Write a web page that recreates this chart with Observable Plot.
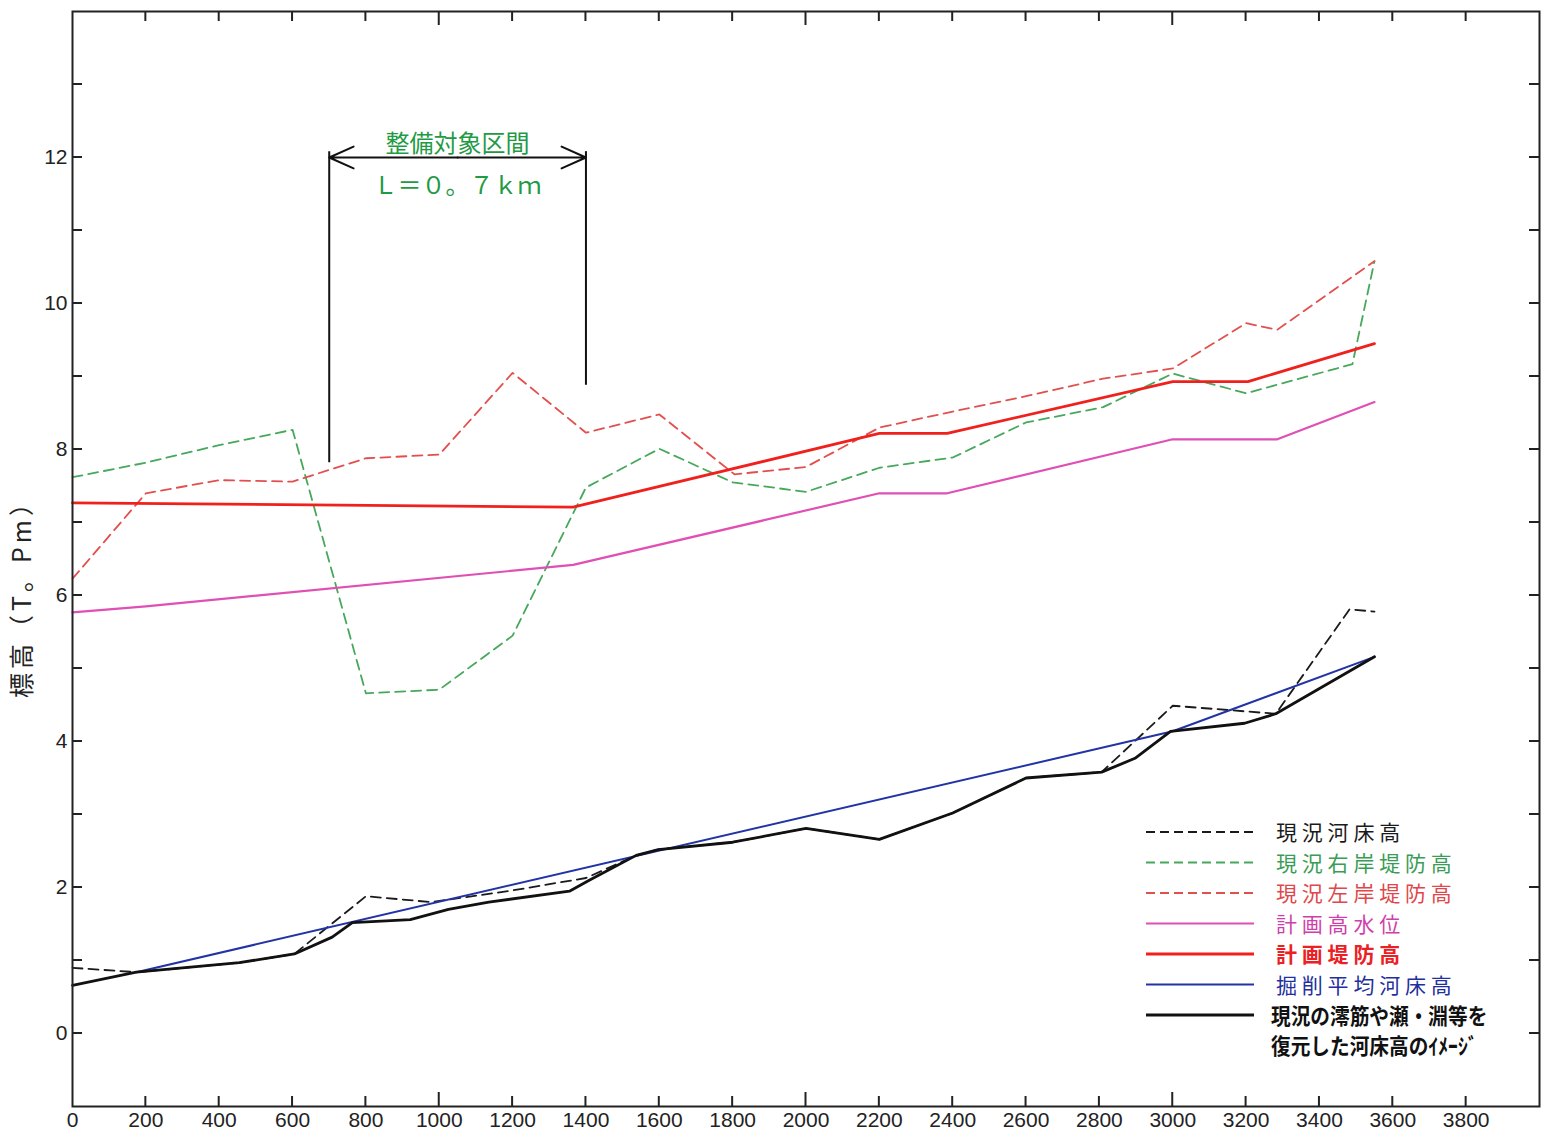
<!DOCTYPE html>
<html>
<head>
<meta charset="utf-8">
<script src="https://cdn.jsdelivr.net/npm/d3@7"></script>
<script src="https://cdn.jsdelivr.net/npm/@observablehq/plot@0.6"></script>
<style>
  body { margin: 0; background: #fff; }
  #chart svg { display: block; }
</style>
</head>
<body>
<div id="chart"></div>
<script>
// Longitudinal profile: distance along the river (m) vs elevation (T.P. m)

// 現況河床高 (existing riverbed, dashed black)
const bedX = [0, 174, 455, 605, 800, 978, 1200, 1400, 1537, 1597, 1800, 2000, 2200, 2400, 2600, 2806, 3000, 3281, 3482, 3550];
const bedY = [0.90, 0.84, 0.97, 1.09, 1.88, 1.80, 1.96, 2.13, 2.44, 2.52, 2.62, 2.81, 2.66, 3.02, 3.50, 3.58, 4.49, 4.38, 5.81, 5.78];

// 現況右岸堤防高 (existing right-bank levee, dashed green)
const rightX = [0, 200, 400, 600, 800, 1000, 1200, 1400, 1600, 1800, 2000, 2200, 2400, 2600, 2810, 3000, 3200, 3490, 3550];
const rightY = [7.62, 7.82, 8.06, 8.27, 4.66, 4.71, 5.45, 7.48, 8.01, 7.55, 7.42, 7.75, 7.89, 8.37, 8.58, 9.04, 8.77, 9.17, 10.58];

// 現況左岸堤防高 (existing left-bank levee, dashed red)
const leftX = [0, 200, 400, 600, 800, 1000, 1200, 1400, 1600, 1805, 2000, 2200, 2400, 2600, 2810, 3000, 3200, 3285, 3550];
const leftY = [6.23, 7.40, 7.58, 7.56, 7.88, 7.93, 9.05, 8.23, 8.48, 7.66, 7.76, 8.30, 8.52, 8.73, 8.97, 9.11, 9.73, 9.64, 10.58];

// 計画高水位 (design high water level, magenta)
const hwlX = [0, 200, 1365, 2200, 2385, 3000, 3285, 3550];
const hwlY = [5.77, 5.85, 6.42, 7.40, 7.40, 8.14, 8.14, 8.65];

// 計画堤防高 (design levee crown, red)
const leveeX = [0, 1365, 2200, 2385, 3000, 3205, 3550];
const leveeY = [7.27, 7.21, 8.22, 8.22, 8.93, 8.93, 9.45];

// 掘削平均河床高 (average excavated bed, blue)
const digX = [174, 3000, 3550];
const digY = [0.84, 4.14, 5.16];

// 現況の澪筋や瀬・淵等を復元した河床高のイメージ (restored bed image, solid black)
const imgX = [0, 174, 455, 605, 708, 763, 921, 1025, 1135, 1355, 1409, 1537, 1597, 1800, 2000, 2200, 2400, 2600, 2806, 2897, 2994, 3196, 3281, 3550];
const imgY = [0.66, 0.84, 0.97, 1.09, 1.32, 1.52, 1.56, 1.70, 1.80, 1.95, 2.10, 2.44, 2.52, 2.62, 2.81, 2.66, 3.02, 3.50, 3.58, 3.77, 4.14, 4.25, 4.38, 5.16];

// Section under improvement (整備対象区間, L = 0.7 km)
const spanX = [700, 1400];
const spanArrowY = 12;
const spanBottomY = [7.82, 8.88];
const spanTitle = "整備対象区間";
const spanLength = "Ｌ＝０。７ｋｍ";

// Axes
const xTickValues = d3.range(0, 3801, 200);
const yTickValues = d3.range(-1, 15, 1);
const yLabelValues = [0, 2, 4, 6, 8, 10, 12];
const yTitle = "標高（T。Pm）";

const pts = (xs, ys) => xs.map((x, i) => ({x, y: ys[i]}));

const series = [
  {name: "現況河床高", data: pts(bedX, bedY), stroke: "#1a1a1a", width: 1.8, dash: "10,6", text: "#1a1a1a", weight: 400},
  {name: "現況右岸堤防高", data: pts(rightX, rightY), stroke: "#47a85c", width: 1.8, dash: "10,6", text: "#3a9d55", weight: 400},
  {name: "現況左岸堤防高", data: pts(leftX, leftY), stroke: "#e2504e", width: 1.8, dash: "10,6", text: "#e0474a", weight: 400},
  {name: "計画高水位", data: pts(hwlX, hwlY), stroke: "#e04fb4", width: 2.2, dash: null, text: "#cf3fab", weight: 400},
  {name: "計画堤防高", data: pts(leveeX, leveeY), stroke: "#f0211c", width: 2.8, dash: null, text: "#ea2025", weight: 700},
  {name: "掘削平均河床高", data: pts(digX, digY), stroke: "#2233a6", width: 2.0, dash: null, text: "#1f2f9e", weight: 400},
  {name: ["現況の澪筋や瀬・淵等を", "復元した河床高のｲﾒｰｼﾞ"], data: pts(imgX, imgY), stroke: "#111", width: 2.8, dash: null, text: "#111", weight: 700}
];

const lineMarks = series.map(s => Plot.line(s.data, {
  x: "x", y: "y", stroke: s.stroke, strokeWidth: s.width,
  strokeDasharray: s.dash, strokeLinejoin: "round"
}));

// inward ticks on all four sides of the frame
function frameTicks(index, {x, y}, values, dims) {
  const {width, height, marginTop, marginRight, marginBottom, marginLeft} = dims;
  const b = height - marginBottom, t = marginTop, l = marginLeft, r = width - marginRight;
  const g = d3.create("svg:g").attr("stroke", "#222").attr("stroke-width", 2);
  for (const v of xTickValues) {
    if (v === 0) continue;
    const len = v % 1000 === 0 ? 14 : 10;
    g.append("line").attr("x1", x(v)).attr("x2", x(v)).attr("y1", b).attr("y2", b - len);
    g.append("line").attr("x1", x(v)).attr("x2", x(v)).attr("y1", t).attr("y2", t + len);
  }
  for (const v of yTickValues) {
    if (v === -1 || v === 14) continue;
    g.append("line").attr("x1", l).attr("x2", l + 10).attr("y1", y(v)).attr("y2", y(v));
    g.append("line").attr("x1", r).attr("x2", r - 10).attr("y1", y(v)).attr("y2", y(v));
  }
  return g.node();
}

// vertical axis title, rotated, left of the frame
function axisTitle(index, scales, values, dims) {
  const {height, marginTop, marginBottom} = dims;
  const cy = (marginTop + height - marginBottom) / 2 + 34;
  return d3.create("svg:text")
    .attr("transform", `translate(31,${cy}) rotate(-90)`)
    .attr("text-anchor", "middle")
    .attr("font-size", 25)
    .attr("letter-spacing", 4)
    .attr("font-family", "'Noto Sans CJK JP', sans-serif")
    .attr("fill", "#222")
    .text(yTitle).node();
}

// legend box in the lower right of the frame
function legend(index, scales, values, dims) {
  const {width, height, marginRight, marginBottom} = dims;
  const x0 = width - marginRight - 393, y0 = height - marginBottom - 274;
  const g = d3.create("svg:g").attr("text-anchor", "start");
  const rowH = 30.5;
  series.forEach((s, i) => {
    const yy = y0 + i * rowH;
    g.append("line").attr("x1", x0).attr("x2", x0 + 108).attr("y1", yy).attr("y2", yy)
      .attr("stroke", s.stroke).attr("stroke-width", s.width).attr("stroke-dasharray", s.dash ? "9,5" : null);
    if (Array.isArray(s.name)) {
      s.name.forEach((ln, k) => {
        g.append("text").attr("fill", s.text).attr("font-weight", 700)
          .attr("font-size", 20.5)
          .attr("transform", `translate(${x0 + 125},${yy + 9 + k * 30}) scale(0.96,1.08)`)
          .attr("font-family", "'Noto Sans CJK JP', sans-serif")
          .text(ln);
      });
    } else {
      g.append("text").attr("x", x0 + 130).attr("y", yy + 8).attr("fill", s.text)
        .attr("font-size", 21).attr("letter-spacing", 4.8).attr("font-weight", s.weight)
        .attr("font-family", "'Noto Sans CJK JP', sans-serif").text(s.name);
    }
  });
  return g.node();
}

const spanMid = (spanX[0] + spanX[1]) / 2;

const chart = Plot.plot({
  width: 1543,
  height: 1141,
  marginLeft: 72,
  marginRight: 4,
  marginTop: 11,
  marginBottom: 35,
  style: {fontFamily: "'Liberation Sans', Arial, sans-serif", background: "#fff", color: "#222"},
  x: {domain: [0, 4000]},
  y: {domain: [-1, 14]},
  marks: [
    Plot.axisX(xTickValues, {anchor: "bottom", tickSize: 0, tickPadding: 6, fontSize: 21, label: null, tickFormat: d => String(d)}),
    Plot.axisY(yLabelValues, {anchor: "left", tickSize: 0, tickPadding: 5, fontSize: 21, label: null, tickFormat: d => String(d)}),
    axisTitle,
    // section markers
    Plot.ruleX(spanX.map((x, i) => ({x, y1: spanArrowY + 0.08, y2: spanBottomY[i]})),
      {x: "x", y1: "y1", y2: "y2", stroke: "#111", strokeWidth: 2}),
    Plot.arrow(spanX.map(x => ({from: spanMid, to: x})),
      {x1: "from", x2: "to", y1: () => spanArrowY, y2: () => spanArrowY,
       stroke: "#111", strokeWidth: 2, headLength: 20, headAngle: 48}),
    Plot.text([spanTitle], {x: () => spanMid, y: () => spanArrowY, dy: -13, fontSize: 24,
      fill: "#1f9a45", fontFamily: "'Noto Sans CJK JP', sans-serif", letterSpacing: 1}),
    Plot.text([spanLength], {x: () => spanMid, y: () => spanArrowY, dy: 29, fontSize: 24,
      fill: "#1f9a45", fontFamily: "'Noto Sans CJK JP', sans-serif"}),
    ...lineMarks,
    Plot.frame({stroke: "#222", strokeWidth: 2}),
    frameTicks,
    legend
  ]
});

document.getElementById("chart").append(chart);
</script>
</body>
</html>
